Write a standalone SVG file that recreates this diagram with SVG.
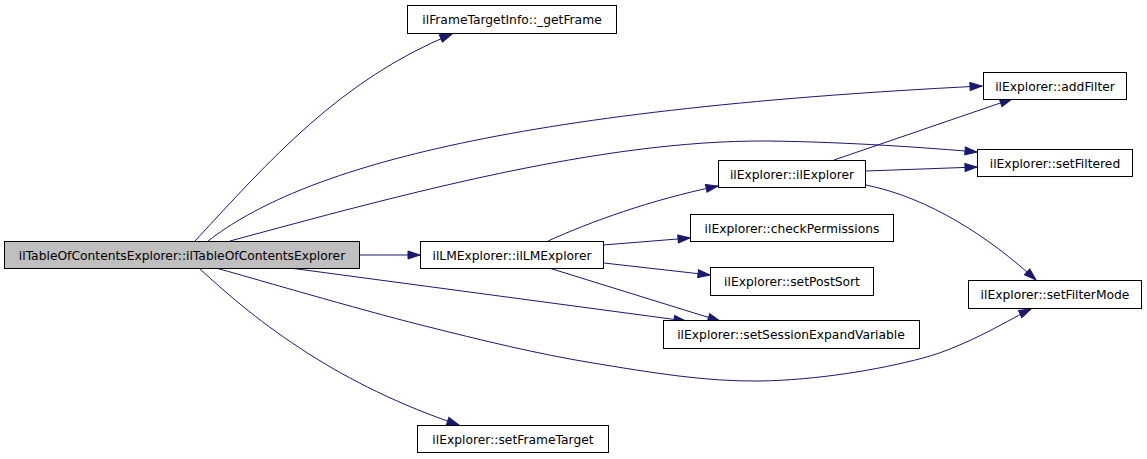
<svg xmlns="http://www.w3.org/2000/svg" width="1147" height="459" viewBox="0 0 1147 459">
<defs>
<style>
.node rect{fill:#ffffff;stroke:#000000;stroke-width:1}
.node.main rect{fill:#bfbfbf}
.node text{font-family:"DejaVu Sans",sans-serif;font-size:12.3px;fill:#000000;text-anchor:middle}
.edge{fill:none;stroke:#191970;stroke-width:1;marker-end:url(#arr)}
</style>
<marker id="arr" markerUnits="userSpaceOnUse" markerWidth="15" markerHeight="11" refX="13" refY="4.5" orient="auto" overflow="visible">
<path d="M1,0.5 L13,4.5 L1,8.5 z" fill="#191970" stroke="#191970" stroke-width="1"/>
</marker>
</defs>
<rect width="1147" height="459" fill="#ffffff"/>
<g id="connectors">
<path class="edge" d="M195,241 C270,160 340,80 452,34"/>
<path class="edge" d="M208,241 C300,170 500,110 982,86"/>
<path class="edge" d="M230,241 C400,195 600,140 767,141 C850,142 930,148 977,152"/>
<path class="edge" d="M360,255 L420,255"/>
<path class="edge" d="M290,268 L686,321"/>
<path class="edge" d="M216,268 C250.2,277.5 358.2,309.2 421,325 C483.8,340.8 536.5,353.7 593,363 C649.5,372.3 705,381.8 760,381 C815,380.2 878.2,370 923,358 C967.8,346 1013.3,317.2 1031,309"/>
<path class="edge" d="M199,268 C260,325 340,385 459,425"/>
<path class="edge" d="M548,241 C590,222 650,200 718,186"/>
<path class="edge" d="M603,245 L690,238"/>
<path class="edge" d="M604,263 L710,275"/>
<path class="edge" d="M549,268 L720,321"/>
<path class="edge" d="M834,160 L1012,99"/>
<path class="edge" d="M866,171 L977,167"/>
<path class="edge" d="M866,185 C930,198 990,238 1036,280"/>
</g>
<g id="n_main" class="node main"><rect x="4.5" y="241.5" width="355" height="27"/><text x="182" y="259.5">ilTableOfContentsExplorer::ilTableOfContentsExplorer</text></g>
<g id="n_getFrame" class="node"><rect x="407.5" y="5.5" width="209" height="28"/><text x="512" y="24">ilFrameTargetInfo::_getFrame</text></g>
<g id="n_lm" class="node"><rect x="420.5" y="241.5" width="183" height="27"/><text x="512" y="259.5">ilLMExplorer::ilLMExplorer</text></g>
<g id="n_addFilter" class="node"><rect x="983.5" y="72.5" width="143" height="27"/><text x="1055" y="90.5">ilExplorer::addFilter</text></g>
<g id="n_setFiltered" class="node"><rect x="977.5" y="149.5" width="155" height="27"/><text x="1055" y="167.5">ilExplorer::setFiltered</text></g>
<g id="n_ilExplorer" class="node"><rect x="718.5" y="160.5" width="147" height="27"/><text x="792" y="178.5">ilExplorer::ilExplorer</text></g>
<g id="n_checkPermissions" class="node"><rect x="690.5" y="214.5" width="203" height="27"/><text x="792" y="232.5">ilExplorer::checkPermissions</text></g>
<g id="n_setPostSort" class="node"><rect x="710.5" y="267.5" width="163" height="28"/><text x="792" y="286">ilExplorer::setPostSort</text></g>
<g id="n_setFilterMode" class="node"><rect x="968.5" y="280.5" width="173" height="28"/><text x="1055" y="299">ilExplorer::setFilterMode</text></g>
<g id="n_setSession" class="node"><rect x="663.5" y="320.5" width="256" height="28"/><text x="791" y="339">ilExplorer::setSessionExpandVariable</text></g>
<g id="n_setFrameTarget" class="node"><rect x="417.5" y="425.5" width="191" height="27"/><text x="513" y="443.5">ilExplorer::setFrameTarget</text></g>
</svg>
